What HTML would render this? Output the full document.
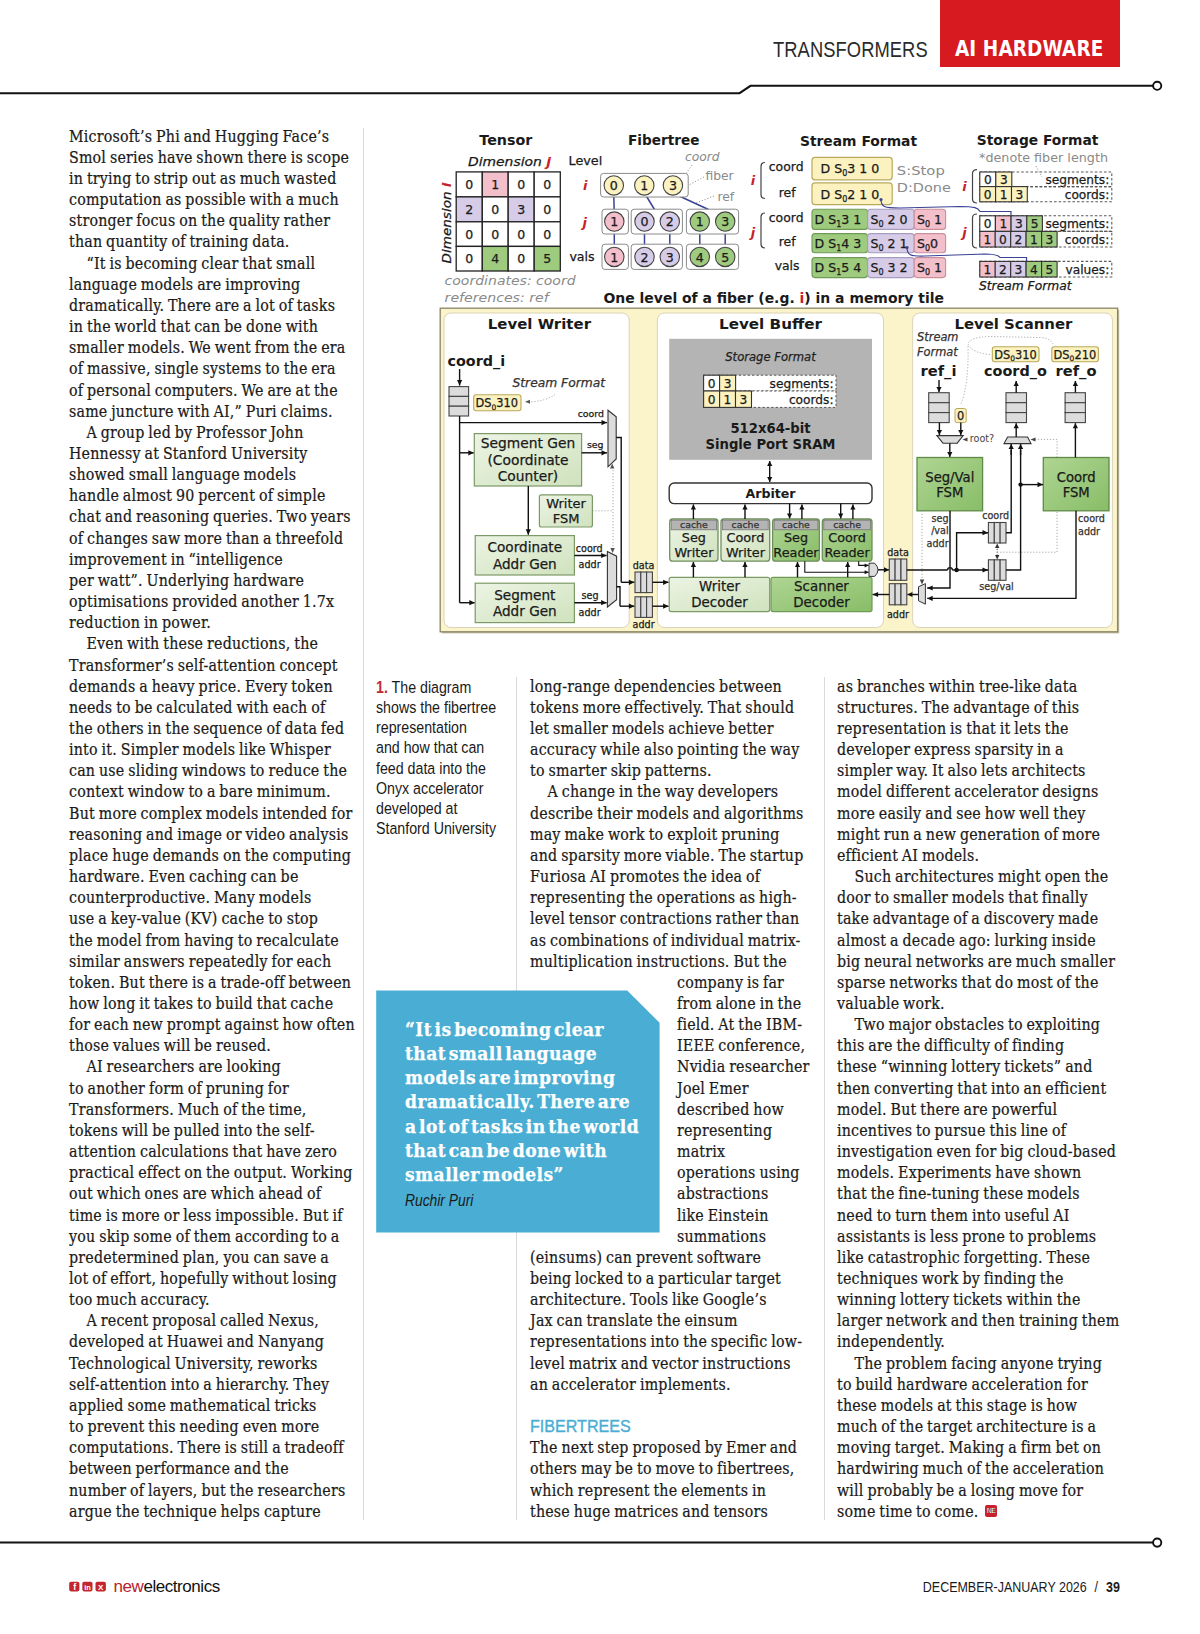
<!DOCTYPE html>
<html lang="en"><head><meta charset="utf-8"><title>New Electronics - AI Hardware: Transformers</title>
<style>
*{margin:0;padding:0;box-sizing:border-box}
html,body{width:1200px;height:1634px;background:#fff;overflow:hidden}
body{position:relative;font-family:"DejaVu Serif Condensed","DejaVu Serif","Liberation Serif",serif;color:#1a1a1a}
.ln{position:absolute;white-space:nowrap;font-family:"DejaVu Serif Condensed","DejaVu Serif","Liberation Serif",serif;font-stretch:condensed;font-size:15.8px;line-height:20px;height:20px;letter-spacing:0.2px;word-spacing:-0.9px;-webkit-text-stroke:0.2px #1a1a1a}
.ln.hd{font-family:"Liberation Sans",sans-serif;font-stretch:normal;word-spacing:0;color:#4aaed4;font-size:16.1px;letter-spacing:0;margin-top:-0.9px;font-weight:400;-webkit-text-stroke:0.35px #4aaed4}
.abs{position:absolute}
.vr{position:absolute;width:1px;background:#d9d9d9}
.cap{position:absolute;left:376px;top:677.9px;font-family:"Liberation Sans",sans-serif;font-size:16.8px;line-height:20.15px;white-space:nowrap;transform:scaleX(0.847);transform-origin:0 0;color:#1a1a1a}
.cap b{color:#bf2a35}
.quote{position:absolute;left:376.2px;top:990.4px;width:283.4px;height:242.2px;background:#4aaed4;clip-path:polygon(0 0,251px 0,283.4px 32.4px,283.4px 242.2px,0 242.2px)}
.qt{position:absolute;left:405px;top:1017px;font-family:"DejaVu Serif Condensed","DejaVu Serif","Liberation Serif",serif;font-stretch:condensed;font-weight:700;font-size:19px;line-height:24.15px;color:#fff;white-space:nowrap;letter-spacing:0.45px;word-spacing:-3.85px;-webkit-text-stroke:0.25px #fff}
.qa{position:absolute;left:405px;top:1189.6px;font-family:"Liberation Sans",sans-serif;font-style:italic;font-size:17.2px;line-height:20px;color:#1a1a1a;transform:scaleX(0.805);transform-origin:0 0;white-space:nowrap}
.ne{display:inline-block;vertical-align:baseline;margin-left:6.3px;width:12.7px;height:11.8px;border-radius:2px;background:#c8202c;color:#fff;font-family:"Liberation Sans",sans-serif;font-weight:700;font-size:7px;line-height:11.8px;text-align:center;letter-spacing:-0.4px;position:relative;top:-3.4px}
.redbox{position:absolute;left:940px;top:0;width:180px;height:66.5px;background:#d71920}
.hw{position:absolute;left:955px;top:37px;font-family:"DejaVu Sans Condensed","DejaVu Sans","Liberation Sans",sans-serif;font-stretch:condensed;font-weight:700;font-size:20.5px;line-height:24px;color:#fff;white-space:nowrap;letter-spacing:0.1px}
.tr{position:absolute;left:772.5px;top:36.5px;font-family:"Liberation Sans",sans-serif;font-size:22.3px;line-height:25px;color:#2a2a2a;white-space:nowrap;transform:scaleX(0.822);transform-origin:0 0;letter-spacing:0.1px}
.foot-date{position:absolute;right:80px;top:1577.5px;font-family:"Liberation Sans",sans-serif;font-size:15px;line-height:18px;color:#1a1a1a;white-space:nowrap;transform:scaleX(0.832);transform-origin:100% 0}
.foot-date i{font-style:normal;display:inline-block;width:9.5px}
.logo{position:absolute;left:113.6px;top:1575.2px;font-family:"Liberation Sans",sans-serif;font-size:17px;line-height:24px;letter-spacing:-0.45px;white-space:nowrap;color:#111}
.logo span{color:#b8222c}
</style></head><body>

<svg class="abs" style="left:0;top:0" width="1200" height="1634" viewBox="0 0 1200 1634">
 <polyline points="0,93.2 739.5,93.2 750.5,85.8 1153,85.8" fill="none" stroke="#111" stroke-width="2"/>
 <circle cx="1157.2" cy="85.8" r="4.1" fill="#fff" stroke="#111" stroke-width="1.9"/>
 <line x1="0" y1="1542.6" x2="1153" y2="1542.6" stroke="#111" stroke-width="2"/>
 <circle cx="1157.2" cy="1542.6" r="4.1" fill="#fff" stroke="#111" stroke-width="1.9"/>
 <g>
  <rect x="69.2" y="1581.8" width="10.2" height="9.6" rx="1.8" fill="#c3262d"/>
  <rect x="82.3" y="1581.8" width="10.2" height="9.6" rx="1.8" fill="#c3262d"/>
  <rect x="95.5" y="1581.8" width="10.4" height="9.6" rx="1.8" fill="#c3262d"/>
  <text x="74.8" y="1590.1" font-family="Liberation Sans, sans-serif" font-weight="700" font-size="9" fill="#fff" text-anchor="middle">f</text>
  <text x="87.4" y="1589.6" font-family="Liberation Sans, sans-serif" font-weight="700" font-size="7.5" fill="#fff" text-anchor="middle" letter-spacing="-0.3">in</text>
  <text x="100.7" y="1589.7" font-family="Liberation Sans, sans-serif" font-weight="700" font-size="8" fill="#fff" text-anchor="middle">X</text>
 </g>
</svg>

<div class="redbox"></div>
<div class="tr">TRANSFORMERS</div>
<div class="hw">AI HARDWARE</div>
<div class="vr" style="left:363px;top:128px;height:1392px"></div>
<div class="vr" style="left:516.4px;top:677px;height:843px"></div>
<div class="vr" style="left:824px;top:677px;height:843px"></div>
<div class="ln" style="left:69.0px;top:126.70px">Microsoft’s Phi and Hugging Face’s</div>
<div class="ln" style="left:69.0px;top:147.85px">Smol series have shown there is scope</div>
<div class="ln" style="left:69.0px;top:169.01px">in trying to strip out as much wasted</div>
<div class="ln" style="left:69.0px;top:190.16px">computation as possible with a much</div>
<div class="ln" style="left:69.0px;top:211.32px">stronger focus on the quality rather</div>
<div class="ln" style="left:69.0px;top:232.47px">than quantity of training data.</div>
<div class="ln" style="left:86.5px;top:253.62px">“It is becoming clear that small</div>
<div class="ln" style="left:69.0px;top:274.78px">language models are improving</div>
<div class="ln" style="left:69.0px;top:295.93px">dramatically. There are a lot of tasks</div>
<div class="ln" style="left:69.0px;top:317.09px">in the world that can be done with</div>
<div class="ln" style="left:69.0px;top:338.24px">smaller models. We went from the era</div>
<div class="ln" style="left:69.0px;top:359.39px">of massive, single systems to the era</div>
<div class="ln" style="left:69.0px;top:380.55px">of personal computers. We are at the</div>
<div class="ln" style="left:69.0px;top:401.70px">same juncture with AI,” Puri claims.</div>
<div class="ln" style="left:86.5px;top:422.86px">A group led by Professor John</div>
<div class="ln" style="left:69.0px;top:444.01px">Hennessy at Stanford University</div>
<div class="ln" style="left:69.0px;top:465.16px">showed small language models</div>
<div class="ln" style="left:69.0px;top:486.32px">handle almost 90 percent of simple</div>
<div class="ln" style="left:69.0px;top:507.47px">chat and reasoning queries. Two years</div>
<div class="ln" style="left:69.0px;top:528.63px">of changes saw more than a threefold</div>
<div class="ln" style="left:69.0px;top:549.78px">improvement in “intelligence</div>
<div class="ln" style="left:69.0px;top:570.93px">per watt”. Underlying hardware</div>
<div class="ln" style="left:69.0px;top:592.09px">optimisations provided another 1.7x</div>
<div class="ln" style="left:69.0px;top:613.24px">reduction in power.</div>
<div class="ln" style="left:86.5px;top:634.40px">Even with these reductions, the</div>
<div class="ln" style="left:69.0px;top:655.55px">Transformer’s self-attention concept</div>
<div class="ln" style="left:69.0px;top:676.70px">demands a heavy price. Every token</div>
<div class="ln" style="left:69.0px;top:697.86px">needs to be calculated with each of</div>
<div class="ln" style="left:69.0px;top:719.01px">the others in the sequence of data fed</div>
<div class="ln" style="left:69.0px;top:740.17px">into it. Simpler models like Whisper</div>
<div class="ln" style="left:69.0px;top:761.32px">can use sliding windows to reduce the</div>
<div class="ln" style="left:69.0px;top:782.47px">context window to a bare minimum.</div>
<div class="ln" style="left:69.0px;top:803.63px">But more complex models intended for</div>
<div class="ln" style="left:69.0px;top:824.78px">reasoning and image or video analysis</div>
<div class="ln" style="left:69.0px;top:845.94px">place huge demands on the computing</div>
<div class="ln" style="left:69.0px;top:867.09px">hardware. Even caching can be</div>
<div class="ln" style="left:69.0px;top:888.24px">counterproductive. Many models</div>
<div class="ln" style="left:69.0px;top:909.40px">use a key-value (KV) cache to stop</div>
<div class="ln" style="left:69.0px;top:930.55px">the model from having to recalculate</div>
<div class="ln" style="left:69.0px;top:951.71px">similar answers repeatedly for each</div>
<div class="ln" style="left:69.0px;top:972.86px">token. But there is a trade-off between</div>
<div class="ln" style="left:69.0px;top:994.01px">how long it takes to build that cache</div>
<div class="ln" style="left:69.0px;top:1015.17px">for each new prompt against how often</div>
<div class="ln" style="left:69.0px;top:1036.32px">those values will be reused.</div>
<div class="ln" style="left:86.5px;top:1057.48px">AI researchers are looking</div>
<div class="ln" style="left:69.0px;top:1078.63px">to another form of pruning for</div>
<div class="ln" style="left:69.0px;top:1099.78px">Transformers. Much of the time,</div>
<div class="ln" style="left:69.0px;top:1120.94px">tokens will be pulled into the self-</div>
<div class="ln" style="left:69.0px;top:1142.09px">attention calculations that have zero</div>
<div class="ln" style="left:69.0px;top:1163.25px">practical effect on the output. Working</div>
<div class="ln" style="left:69.0px;top:1184.40px">out which ones are which ahead of</div>
<div class="ln" style="left:69.0px;top:1205.55px">time is more or less impossible. But if</div>
<div class="ln" style="left:69.0px;top:1226.71px">you skip some of them according to a</div>
<div class="ln" style="left:69.0px;top:1247.86px">predetermined plan, you can save a</div>
<div class="ln" style="left:69.0px;top:1269.02px">lot of effort, hopefully without losing</div>
<div class="ln" style="left:69.0px;top:1290.17px">too much accuracy.</div>
<div class="ln" style="left:86.5px;top:1311.32px">A recent proposal called Nexus,</div>
<div class="ln" style="left:69.0px;top:1332.48px">developed at Huawei and Nanyang</div>
<div class="ln" style="left:69.0px;top:1353.63px">Technological University, reworks</div>
<div class="ln" style="left:69.0px;top:1374.79px">self-attention into a hierarchy. They</div>
<div class="ln" style="left:69.0px;top:1395.94px">applied some mathematical tricks</div>
<div class="ln" style="left:69.0px;top:1417.09px">to prevent this needing even more</div>
<div class="ln" style="left:69.0px;top:1438.25px">computations. There is still a tradeoff</div>
<div class="ln" style="left:69.0px;top:1459.40px">between performance and the</div>
<div class="ln" style="left:69.0px;top:1480.56px">number of layers, but the researchers</div>
<div class="ln" style="left:69.0px;top:1501.71px">argue the technique helps capture</div>
<div class="ln" style="left:530.0px;top:676.70px">long-range dependencies between</div>
<div class="ln" style="left:530.0px;top:697.86px">tokens more effectively. That should</div>
<div class="ln" style="left:530.0px;top:719.01px">let smaller models achieve better</div>
<div class="ln" style="left:530.0px;top:740.17px">accuracy while also pointing the way</div>
<div class="ln" style="left:530.0px;top:761.32px">to smarter skip patterns.</div>
<div class="ln" style="left:547.5px;top:782.47px">A change in the way developers</div>
<div class="ln" style="left:530.0px;top:803.63px">describe their models and algorithms</div>
<div class="ln" style="left:530.0px;top:824.78px">may make work to exploit pruning</div>
<div class="ln" style="left:530.0px;top:845.94px">and sparsity more viable. The startup</div>
<div class="ln" style="left:530.0px;top:867.09px">Furiosa AI promotes the idea of</div>
<div class="ln" style="left:530.0px;top:888.24px">representing the operations as high-</div>
<div class="ln" style="left:530.0px;top:909.40px">level tensor contractions rather than</div>
<div class="ln" style="left:530.0px;top:930.55px">as combinations of individual matrix-</div>
<div class="ln" style="left:530.0px;top:951.71px">multiplication instructions. But the</div>
<div class="ln" style="left:677.0px;top:972.86px">company is far</div>
<div class="ln" style="left:677.0px;top:994.01px">from alone in the</div>
<div class="ln" style="left:677.0px;top:1015.17px">field. At the IBM-</div>
<div class="ln" style="left:677.0px;top:1036.32px">IEEE conference,</div>
<div class="ln" style="left:677.0px;top:1057.48px">Nvidia researcher</div>
<div class="ln" style="left:677.0px;top:1078.63px">Joel Emer</div>
<div class="ln" style="left:677.0px;top:1099.78px">described how</div>
<div class="ln" style="left:677.0px;top:1120.94px">representing</div>
<div class="ln" style="left:677.0px;top:1142.09px">matrix</div>
<div class="ln" style="left:677.0px;top:1163.25px">operations using</div>
<div class="ln" style="left:677.0px;top:1184.40px">abstractions</div>
<div class="ln" style="left:677.0px;top:1205.55px">like Einstein</div>
<div class="ln" style="left:677.0px;top:1226.71px">summations</div>
<div class="ln" style="left:530.0px;top:1247.86px">(einsums) can prevent software</div>
<div class="ln" style="left:530.0px;top:1269.02px">being locked to a particular target</div>
<div class="ln" style="left:530.0px;top:1290.17px">architecture. Tools like Google’s</div>
<div class="ln" style="left:530.0px;top:1311.32px">Jax can translate the einsum</div>
<div class="ln" style="left:530.0px;top:1332.48px">representations into the specific low-</div>
<div class="ln" style="left:530.0px;top:1353.63px">level matrix and vector instructions</div>
<div class="ln" style="left:530.0px;top:1374.79px">an accelerator implements.</div>
<div class="ln hd" style="left:530.0px;top:1417.09px">FIBERTREES</div>
<div class="ln" style="left:530.0px;top:1438.25px">The next step proposed by Emer and</div>
<div class="ln" style="left:530.0px;top:1459.40px">others may be to move to fibertrees,</div>
<div class="ln" style="left:530.0px;top:1480.56px">which represent the elements in</div>
<div class="ln" style="left:530.0px;top:1501.71px">these huge matrices and tensors</div>
<div class="ln" style="left:837.0px;top:676.70px">as branches within tree-like data</div>
<div class="ln" style="left:837.0px;top:697.86px">structures. The advantage of this</div>
<div class="ln" style="left:837.0px;top:719.01px">representation is that it lets the</div>
<div class="ln" style="left:837.0px;top:740.17px">developer express sparsity in a</div>
<div class="ln" style="left:837.0px;top:761.32px">simpler way. It also lets architects</div>
<div class="ln" style="left:837.0px;top:782.47px">model different accelerator designs</div>
<div class="ln" style="left:837.0px;top:803.63px">more easily and see how well they</div>
<div class="ln" style="left:837.0px;top:824.78px">might run a new generation of more</div>
<div class="ln" style="left:837.0px;top:845.94px">efficient AI models.</div>
<div class="ln" style="left:854.5px;top:867.09px">Such architectures might open the</div>
<div class="ln" style="left:837.0px;top:888.24px">door to smaller models that finally</div>
<div class="ln" style="left:837.0px;top:909.40px">take advantage of a discovery made</div>
<div class="ln" style="left:837.0px;top:930.55px">almost a decade ago: lurking inside</div>
<div class="ln" style="left:837.0px;top:951.71px">big neural networks are much smaller</div>
<div class="ln" style="left:837.0px;top:972.86px">sparse networks that do most of the</div>
<div class="ln" style="left:837.0px;top:994.01px">valuable work.</div>
<div class="ln" style="left:854.5px;top:1015.17px">Two major obstacles to exploiting</div>
<div class="ln" style="left:837.0px;top:1036.32px">this are the difficulty of finding</div>
<div class="ln" style="left:837.0px;top:1057.48px">these “winning lottery tickets” and</div>
<div class="ln" style="left:837.0px;top:1078.63px">then converting that into an efficient</div>
<div class="ln" style="left:837.0px;top:1099.78px">model. But there are powerful</div>
<div class="ln" style="left:837.0px;top:1120.94px">incentives to pursue this line of</div>
<div class="ln" style="left:837.0px;top:1142.09px">investigation even for big cloud-based</div>
<div class="ln" style="left:837.0px;top:1163.25px">models. Experiments have shown</div>
<div class="ln" style="left:837.0px;top:1184.40px">that the fine-tuning these models</div>
<div class="ln" style="left:837.0px;top:1205.55px">need to turn them into useful AI</div>
<div class="ln" style="left:837.0px;top:1226.71px">assistants is less prone to problems</div>
<div class="ln" style="left:837.0px;top:1247.86px">like catastrophic forgetting. These</div>
<div class="ln" style="left:837.0px;top:1269.02px">techniques work by finding the</div>
<div class="ln" style="left:837.0px;top:1290.17px">winning lottery tickets within the</div>
<div class="ln" style="left:837.0px;top:1311.32px">larger network and then training them</div>
<div class="ln" style="left:837.0px;top:1332.48px">independently.</div>
<div class="ln" style="left:854.5px;top:1353.63px">The problem facing anyone trying</div>
<div class="ln" style="left:837.0px;top:1374.79px">to build hardware acceleration for</div>
<div class="ln" style="left:837.0px;top:1395.94px">these models at this stage is how</div>
<div class="ln" style="left:837.0px;top:1417.09px">much of the target architecture is a</div>
<div class="ln" style="left:837.0px;top:1438.25px">moving target. Making a firm bet on</div>
<div class="ln" style="left:837.0px;top:1459.40px">hardwiring much of the acceleration</div>
<div class="ln" style="left:837.0px;top:1480.56px">will probably be a losing move for</div>
<div class="ln" style="left:837.0px;top:1501.71px">some time to come.<span class="ne">NE</span></div>
<div class="cap"><b>1.</b> The diagram<br>shows the fibertree<br>representation<br>and how that can<br>feed data into the<br>Onyx accelerator<br>developed at<br>Stanford University</div>
<div class="quote"></div>
<div class="qt">“It is becoming clear<br>that small language<br>models are improving<br>dramatically. There are<br>a lot of tasks in the world<br>that can be done with<br>smaller models”</div>
<div class="qa">Ruchir Puri</div>
<svg class="abs" style="left:0;top:0" width="1200" height="660" viewBox="0 0 1200 660" font-family="DejaVu Sans, Liberation Sans, sans-serif">
<defs><linearGradient id="gl" x1="0" y1="0" x2="1" y2="1"><stop offset="0" stop-color="#ecf4e4"/><stop offset="1" stop-color="#cfe2bd"/></linearGradient><linearGradient id="gd" x1="0" y1="0" x2="1" y2="1"><stop offset="0" stop-color="#afd593"/><stop offset="1" stop-color="#88bd67"/></linearGradient><linearGradient id="gy" x1="0" y1="0" x2="0" y2="1"><stop offset="0" stop-color="#fdf8dc"/><stop offset="1" stop-color="#f9efbc"/></linearGradient></defs>
<text x="505.8" y="145.0" font-size="13.2" font-weight="700" font-style="normal" fill="#1a1a1a"  text-anchor="middle" textLength="53" lengthAdjust="spacingAndGlyphs">Tensor</text>
<text x="468.0" y="166.0" font-size="12.3" font-weight="400" font-style="italic" fill="#1a1a1a" stroke="#1a1a1a" stroke-width="0.25" text-anchor="start" textLength="83" lengthAdjust="spacingAndGlyphs">Dimension <tspan fill="#c8202c" stroke="none" font-weight="700">j</tspan></text>
<text transform="translate(450.5,263.5) rotate(-90)" textLength="81" lengthAdjust="spacingAndGlyphs" font-size="12.3" font-style="italic" fill="#1a1a1a" stroke="#1a1a1a" stroke-width="0.25">Dimension <tspan fill="#c8202c" stroke="none" font-weight="700">i</tspan></text>
<rect x="456.2" y="171.9" width="26.1" height="25.0" rx="0" fill="#fff" stroke="#222" stroke-width="1.3" />
<text x="469.2" y="189.0" font-size="12.5" font-weight="400" font-style="normal" fill="#1a1a1a" stroke="#1a1a1a" stroke-width="0.25" text-anchor="middle" >0</text>
<rect x="482.3" y="171.9" width="25.9" height="25.0" rx="0" fill="#f3bfcb" stroke="#222" stroke-width="1.3" />
<text x="495.2" y="189.0" font-size="12.5" font-weight="400" font-style="normal" fill="#1a1a1a" stroke="#1a1a1a" stroke-width="0.25" text-anchor="middle" >1</text>
<rect x="508.2" y="171.9" width="26.0" height="25.0" rx="0" fill="#fff" stroke="#222" stroke-width="1.3" />
<text x="521.2" y="189.0" font-size="12.5" font-weight="400" font-style="normal" fill="#1a1a1a" stroke="#1a1a1a" stroke-width="0.25" text-anchor="middle" >0</text>
<rect x="534.2" y="171.9" width="26.1" height="25.0" rx="0" fill="#fff" stroke="#222" stroke-width="1.3" />
<text x="547.2" y="189.0" font-size="12.5" font-weight="400" font-style="normal" fill="#1a1a1a" stroke="#1a1a1a" stroke-width="0.25" text-anchor="middle" >0</text>
<rect x="456.2" y="196.9" width="26.1" height="24.9" rx="0" fill="#d7cce7" stroke="#222" stroke-width="1.3" />
<text x="469.2" y="214.0" font-size="12.5" font-weight="400" font-style="normal" fill="#1a1a1a" stroke="#1a1a1a" stroke-width="0.25" text-anchor="middle" >2</text>
<rect x="482.3" y="196.9" width="25.9" height="24.9" rx="0" fill="#fff" stroke="#222" stroke-width="1.3" />
<text x="495.2" y="214.0" font-size="12.5" font-weight="400" font-style="normal" fill="#1a1a1a" stroke="#1a1a1a" stroke-width="0.25" text-anchor="middle" >0</text>
<rect x="508.2" y="196.9" width="26.0" height="24.9" rx="0" fill="#d7cce7" stroke="#222" stroke-width="1.3" />
<text x="521.2" y="214.0" font-size="12.5" font-weight="400" font-style="normal" fill="#1a1a1a" stroke="#1a1a1a" stroke-width="0.25" text-anchor="middle" >3</text>
<rect x="534.2" y="196.9" width="26.1" height="24.9" rx="0" fill="#fff" stroke="#222" stroke-width="1.3" />
<text x="547.2" y="214.0" font-size="12.5" font-weight="400" font-style="normal" fill="#1a1a1a" stroke="#1a1a1a" stroke-width="0.25" text-anchor="middle" >0</text>
<rect x="456.2" y="221.8" width="26.1" height="24.6" rx="0" fill="#fff" stroke="#222" stroke-width="1.3" />
<text x="469.2" y="238.7" font-size="12.5" font-weight="400" font-style="normal" fill="#1a1a1a" stroke="#1a1a1a" stroke-width="0.25" text-anchor="middle" >0</text>
<rect x="482.3" y="221.8" width="25.9" height="24.6" rx="0" fill="#fff" stroke="#222" stroke-width="1.3" />
<text x="495.2" y="238.7" font-size="12.5" font-weight="400" font-style="normal" fill="#1a1a1a" stroke="#1a1a1a" stroke-width="0.25" text-anchor="middle" >0</text>
<rect x="508.2" y="221.8" width="26.0" height="24.6" rx="0" fill="#fff" stroke="#222" stroke-width="1.3" />
<text x="521.2" y="238.7" font-size="12.5" font-weight="400" font-style="normal" fill="#1a1a1a" stroke="#1a1a1a" stroke-width="0.25" text-anchor="middle" >0</text>
<rect x="534.2" y="221.8" width="26.1" height="24.6" rx="0" fill="#fff" stroke="#222" stroke-width="1.3" />
<text x="547.2" y="238.7" font-size="12.5" font-weight="400" font-style="normal" fill="#1a1a1a" stroke="#1a1a1a" stroke-width="0.25" text-anchor="middle" >0</text>
<rect x="456.2" y="246.4" width="26.1" height="24.6" rx="0" fill="#fff" stroke="#222" stroke-width="1.3" />
<text x="469.2" y="263.3" font-size="12.5" font-weight="400" font-style="normal" fill="#1a1a1a" stroke="#1a1a1a" stroke-width="0.25" text-anchor="middle" >0</text>
<rect x="482.3" y="246.4" width="25.9" height="24.6" rx="0" fill="#9ecb7e" stroke="#222" stroke-width="1.3" />
<text x="495.2" y="263.3" font-size="12.5" font-weight="400" font-style="normal" fill="#1a1a1a" stroke="#1a1a1a" stroke-width="0.25" text-anchor="middle" >4</text>
<rect x="508.2" y="246.4" width="26.0" height="24.6" rx="0" fill="#fff" stroke="#222" stroke-width="1.3" />
<text x="521.2" y="263.3" font-size="12.5" font-weight="400" font-style="normal" fill="#1a1a1a" stroke="#1a1a1a" stroke-width="0.25" text-anchor="middle" >0</text>
<rect x="534.2" y="246.4" width="26.1" height="24.6" rx="0" fill="#9ecb7e" stroke="#222" stroke-width="1.3" />
<text x="547.2" y="263.3" font-size="12.5" font-weight="400" font-style="normal" fill="#1a1a1a" stroke="#1a1a1a" stroke-width="0.25" text-anchor="middle" >5</text>
<text x="444.6" y="285.3" font-size="12.2" font-weight="400" font-style="italic" fill="#8a8a8a"  text-anchor="start" textLength="131" lengthAdjust="spacingAndGlyphs">coordinates: coord</text>
<text x="444.6" y="301.5" font-size="12.2" font-weight="400" font-style="italic" fill="#8a8a8a"  text-anchor="start" textLength="104" lengthAdjust="spacingAndGlyphs">references: ref</text>
<text x="663.8" y="145.0" font-size="13.2" font-weight="700" font-style="normal" fill="#1a1a1a"  text-anchor="middle" textLength="71.5" lengthAdjust="spacingAndGlyphs">Fibertree</text>
<text x="568.5" y="165.3" font-size="12.8" font-weight="400" font-style="normal" fill="#1a1a1a" stroke="#1a1a1a" stroke-width="0.25" text-anchor="start" >Level</text>
<text x="685.0" y="161.2" font-size="12.3" font-weight="400" font-style="italic" fill="#8a8a8a"  text-anchor="start" >coord</text>
<text x="705.5" y="179.6" font-size="12.3" font-weight="400" font-style="normal" fill="#8a8a8a"  text-anchor="start" >fiber</text>
<text x="717.5" y="200.8" font-size="12.3" font-weight="400" font-style="normal" fill="#8a8a8a"  text-anchor="start" >ref</text>
<text x="583.0" y="190.2" font-size="13" font-weight="700" font-style="italic" fill="#c8202c"  text-anchor="start" >i</text>
<text x="582.5" y="226.5" font-size="13" font-weight="700" font-style="italic" fill="#c8202c"  text-anchor="start" >j</text>
<text x="569.4" y="260.8" font-size="12.6" font-weight="400" font-style="normal" fill="#1a1a1a" stroke="#1a1a1a" stroke-width="0.25" text-anchor="start" >vals</text>
<polyline points="692.0,165.0 683.0,178.0" fill="none" stroke="#9a9a9a" stroke-width="1" stroke-dasharray="1.2 1.8"/>
<polyline points="704.0,177.0 689.0,185.0" fill="none" stroke="#9a9a9a" stroke-width="1" stroke-dasharray="1.2 1.8"/>
<polyline points="714.0,196.0 696.0,203.0" fill="none" stroke="#9a9a9a" stroke-width="1" stroke-dasharray="1.2 1.8"/>
<polyline points="613.8,196.0 614.2,211.0" fill="none" stroke="#3b4295" stroke-width="1.5" />
<polyline points="646.0,195.5 654.5,209.5" fill="none" stroke="#3b4295" stroke-width="1.5" />
<polyline points="677.0,195.0 708.5,209.5" fill="none" stroke="#3b4295" stroke-width="1.5" />
<polyline points="614.3,231.0 614.3,247.0" fill="none" stroke="#3b4295" stroke-width="1.5" />
<polyline points="644.5,231.0 644.5,247.0" fill="none" stroke="#3b4295" stroke-width="1.5" />
<polyline points="669.8,231.0 669.8,247.0" fill="none" stroke="#3b4295" stroke-width="1.5" />
<polyline points="699.8,231.0 699.8,247.0" fill="none" stroke="#3b4295" stroke-width="1.5" />
<polyline points="725.2,231.0 725.2,247.0" fill="none" stroke="#3b4295" stroke-width="1.5" />
<rect x="600.6" y="173.4" width="87.6" height="23.6" rx="3" fill="#fff" stroke="#8a8a8a" stroke-width="1" />
<rect x="602.0" y="209.2" width="26.4" height="24.8" rx="3" fill="#fff" stroke="#8a8a8a" stroke-width="1" />
<rect x="602.0" y="244.2" width="26.4" height="25.2" rx="3" fill="#fff" stroke="#8a8a8a" stroke-width="1" />
<rect x="631.2" y="209.2" width="51.2" height="24.8" rx="3" fill="#fff" stroke="#8a8a8a" stroke-width="1" />
<rect x="631.2" y="244.2" width="51.2" height="25.2" rx="3" fill="#fff" stroke="#8a8a8a" stroke-width="1" />
<rect x="686.4" y="209.2" width="52.2" height="24.8" rx="3" fill="#fff" stroke="#8a8a8a" stroke-width="1" />
<rect x="686.4" y="244.2" width="52.2" height="25.2" rx="3" fill="#fff" stroke="#8a8a8a" stroke-width="1" />
<circle cx="613.8" cy="185.4" r="9.7" fill="#fbf2bf" stroke="#444" stroke-width="1.1"/>
<text x="613.8" y="190.0" font-size="12.6" font-weight="400" font-style="normal" fill="#1a1a1a" stroke="#1a1a1a" stroke-width="0.25" text-anchor="middle" >0</text>
<circle cx="644.3" cy="185.4" r="9.7" fill="#fbf2bf" stroke="#444" stroke-width="1.1"/>
<text x="644.3" y="190.0" font-size="12.6" font-weight="400" font-style="normal" fill="#1a1a1a" stroke="#1a1a1a" stroke-width="0.25" text-anchor="middle" >1</text>
<circle cx="672.9" cy="185.4" r="9.7" fill="#fbf2bf" stroke="#444" stroke-width="1.1"/>
<text x="672.9" y="190.0" font-size="12.6" font-weight="400" font-style="normal" fill="#1a1a1a" stroke="#1a1a1a" stroke-width="0.25" text-anchor="middle" >3</text>
<circle cx="614.3" cy="221.6" r="9.7" fill="#f3bfcb" stroke="#444" stroke-width="1.1"/>
<text x="614.3" y="226.2" font-size="12.6" font-weight="400" font-style="normal" fill="#1a1a1a" stroke="#1a1a1a" stroke-width="0.25" text-anchor="middle" >1</text>
<circle cx="644.5" cy="221.6" r="9.7" fill="#d7cce7" stroke="#444" stroke-width="1.1"/>
<text x="644.5" y="226.2" font-size="12.6" font-weight="400" font-style="normal" fill="#1a1a1a" stroke="#1a1a1a" stroke-width="0.25" text-anchor="middle" >0</text>
<circle cx="669.8" cy="221.6" r="9.7" fill="#d7cce7" stroke="#444" stroke-width="1.1"/>
<text x="669.8" y="226.2" font-size="12.6" font-weight="400" font-style="normal" fill="#1a1a1a" stroke="#1a1a1a" stroke-width="0.25" text-anchor="middle" >2</text>
<circle cx="699.8" cy="221.6" r="9.7" fill="#9ecb7e" stroke="#444" stroke-width="1.1"/>
<text x="699.8" y="226.2" font-size="12.6" font-weight="400" font-style="normal" fill="#1a1a1a" stroke="#1a1a1a" stroke-width="0.25" text-anchor="middle" >1</text>
<circle cx="725.2" cy="221.6" r="9.7" fill="#9ecb7e" stroke="#444" stroke-width="1.1"/>
<text x="725.2" y="226.2" font-size="12.6" font-weight="400" font-style="normal" fill="#1a1a1a" stroke="#1a1a1a" stroke-width="0.25" text-anchor="middle" >3</text>
<circle cx="614.3" cy="256.9" r="9.7" fill="#f3bfcb" stroke="#444" stroke-width="1.1"/>
<text x="614.3" y="261.5" font-size="12.6" font-weight="400" font-style="normal" fill="#1a1a1a" stroke="#1a1a1a" stroke-width="0.25" text-anchor="middle" >1</text>
<circle cx="644.5" cy="256.9" r="9.7" fill="#d7cce7" stroke="#444" stroke-width="1.1"/>
<text x="644.5" y="261.5" font-size="12.6" font-weight="400" font-style="normal" fill="#1a1a1a" stroke="#1a1a1a" stroke-width="0.25" text-anchor="middle" >2</text>
<circle cx="669.8" cy="256.9" r="9.7" fill="#d7cce7" stroke="#444" stroke-width="1.1"/>
<text x="669.8" y="261.5" font-size="12.6" font-weight="400" font-style="normal" fill="#1a1a1a" stroke="#1a1a1a" stroke-width="0.25" text-anchor="middle" >3</text>
<circle cx="699.8" cy="256.9" r="9.7" fill="#9ecb7e" stroke="#444" stroke-width="1.1"/>
<text x="699.8" y="261.5" font-size="12.6" font-weight="400" font-style="normal" fill="#1a1a1a" stroke="#1a1a1a" stroke-width="0.25" text-anchor="middle" >4</text>
<circle cx="725.2" cy="256.9" r="9.7" fill="#9ecb7e" stroke="#444" stroke-width="1.1"/>
<text x="725.2" y="261.5" font-size="12.6" font-weight="400" font-style="normal" fill="#1a1a1a" stroke="#1a1a1a" stroke-width="0.25" text-anchor="middle" >5</text>
<text x="603.5" y="302.6" font-size="13.2" font-weight="700" font-style="normal" fill="#1a1a1a"  text-anchor="start" textLength="340.5" lengthAdjust="spacingAndGlyphs">One level of a fiber (e.g. <tspan fill="#c8202c" stroke="none">i</tspan>) in a memory tile</text>
<text x="858.5" y="145.5" font-size="13.2" font-weight="700" font-style="normal" fill="#1a1a1a"  text-anchor="middle" textLength="117.2" lengthAdjust="spacingAndGlyphs">Stream Format</text>
<text x="753.0" y="185.0" font-size="13" font-weight="700" font-style="italic" fill="#c8202c"  text-anchor="middle" >i</text>
<text x="753.0" y="236.5" font-size="13" font-weight="700" font-style="italic" fill="#c8202c"  text-anchor="middle" >j</text>
<path d="M765,162.5 q-4,0 -4,4 v28 q0,4 4,4" fill="none" stroke="#444" stroke-width="1.2"/>
<path d="M765,213 q-4,0 -4,4 v27 q0,4 4,4" fill="none" stroke="#444" stroke-width="1.2"/>
<text x="803.5" y="171.0" font-size="12.4" font-weight="400" font-style="normal" fill="#1a1a1a" stroke="#1a1a1a" stroke-width="0.25" text-anchor="end" >coord</text>
<text x="795.5" y="197.2" font-size="12.4" font-weight="400" font-style="normal" fill="#1a1a1a" stroke="#1a1a1a" stroke-width="0.25" text-anchor="end" >ref</text>
<text x="803.5" y="222.0" font-size="12.4" font-weight="400" font-style="normal" fill="#1a1a1a" stroke="#1a1a1a" stroke-width="0.25" text-anchor="end" >coord</text>
<text x="795.5" y="245.5" font-size="12.4" font-weight="400" font-style="normal" fill="#1a1a1a" stroke="#1a1a1a" stroke-width="0.25" text-anchor="end" >ref</text>
<text x="799.5" y="270.0" font-size="12.4" font-weight="400" font-style="normal" fill="#1a1a1a" stroke="#1a1a1a" stroke-width="0.25" text-anchor="end" >vals</text>
<rect x="812.0" y="157.4" width="80.2" height="22.4" rx="3" fill="#fbf2bf" stroke="#b9a95c" stroke-width="1.2" />
<rect x="812.0" y="182.8" width="80.2" height="21.8" rx="3" fill="#fbf2bf" stroke="#b9a95c" stroke-width="1.2" />
<text x="820.5" y="173.4" font-size="12.6" font-weight="400" font-style="normal" fill="#1a1a1a" stroke="#1a1a1a" stroke-width="0.25" text-anchor="start" >D S<tspan font-size="8" dy="3">0</tspan><tspan dy="-3">3 1 0</tspan></text>
<text x="820.5" y="198.6" font-size="12.6" font-weight="400" font-style="normal" fill="#1a1a1a" stroke="#1a1a1a" stroke-width="0.25" text-anchor="start" >D S<tspan font-size="8" dy="3">0</tspan><tspan dy="-3">2 1 0</tspan></text>
<text x="896.8" y="174.6" font-size="12.8" font-weight="400" font-style="normal" fill="#8a8a8a"  text-anchor="start" textLength="48" lengthAdjust="spacingAndGlyphs">S:Stop</text>
<text x="896.8" y="191.6" font-size="12.8" font-weight="400" font-style="normal" fill="#8a8a8a"  text-anchor="start" textLength="54" lengthAdjust="spacingAndGlyphs">D:Done</text>
<rect x="812.0" y="209.2" width="55.6" height="20.2" rx="3" fill="#9ecb7e" stroke="#6f9a55" stroke-width="1.1" />
<rect x="867.6" y="209.2" width="46.6" height="20.2" rx="3" fill="#d7cce7" stroke="#a79cc0" stroke-width="1.1" />
<rect x="914.2" y="209.2" width="31.4" height="20.2" rx="3" fill="#f3bfcb" stroke="#c9909c" stroke-width="1.1" />
<text x="814.5" y="223.8" font-size="12.6" font-weight="400" font-style="normal" fill="#1a1a1a" stroke="#1a1a1a" stroke-width="0.25" text-anchor="start" >D S<tspan font-size="8" dy="3">1</tspan><tspan dy="-3">3 1</tspan></text>
<text x="870.5" y="223.8" font-size="12.6" font-weight="400" font-style="normal" fill="#1a1a1a" stroke="#1a1a1a" stroke-width="0.25" text-anchor="start" >S<tspan font-size="8" dy="3">0</tspan><tspan dy="-3"> 2 0</tspan></text>
<text x="917.0" y="223.8" font-size="12.6" font-weight="400" font-style="normal" fill="#1a1a1a" stroke="#1a1a1a" stroke-width="0.25" text-anchor="start" >S<tspan font-size="8" dy="3">0</tspan><tspan dy="-3"> 1</tspan></text>
<rect x="812.0" y="233.6" width="55.6" height="19.2" rx="3" fill="#9ecb7e" stroke="#6f9a55" stroke-width="1.1" />
<rect x="867.6" y="233.6" width="46.6" height="19.2" rx="3" fill="#d7cce7" stroke="#a79cc0" stroke-width="1.1" />
<rect x="914.2" y="233.6" width="31.4" height="19.2" rx="3" fill="#f3bfcb" stroke="#c9909c" stroke-width="1.1" />
<text x="814.5" y="247.7" font-size="12.6" font-weight="400" font-style="normal" fill="#1a1a1a" stroke="#1a1a1a" stroke-width="0.25" text-anchor="start" >D S<tspan font-size="8" dy="3">1</tspan><tspan dy="-3">4 3</tspan></text>
<text x="870.5" y="247.7" font-size="12.6" font-weight="400" font-style="normal" fill="#1a1a1a" stroke="#1a1a1a" stroke-width="0.25" text-anchor="start" >S<tspan font-size="8" dy="3">0</tspan><tspan dy="-3"> 2 1</tspan></text>
<text x="917.0" y="247.7" font-size="12.6" font-weight="400" font-style="normal" fill="#1a1a1a" stroke="#1a1a1a" stroke-width="0.25" text-anchor="start" >S<tspan font-size="8" dy="3">0</tspan><tspan dy="-3">0</tspan></text>
<rect x="812.0" y="257.6" width="55.6" height="20.0" rx="3" fill="#9ecb7e" stroke="#6f9a55" stroke-width="1.1" />
<rect x="867.6" y="257.6" width="46.6" height="20.0" rx="3" fill="#d7cce7" stroke="#a79cc0" stroke-width="1.1" />
<rect x="914.2" y="257.6" width="31.4" height="20.0" rx="3" fill="#f3bfcb" stroke="#c9909c" stroke-width="1.1" />
<text x="814.5" y="272.1" font-size="12.6" font-weight="400" font-style="normal" fill="#1a1a1a" stroke="#1a1a1a" stroke-width="0.25" text-anchor="start" >D S<tspan font-size="8" dy="3">1</tspan><tspan dy="-3">5 4</tspan></text>
<text x="870.5" y="272.1" font-size="12.6" font-weight="400" font-style="normal" fill="#1a1a1a" stroke="#1a1a1a" stroke-width="0.25" text-anchor="start" >S<tspan font-size="8" dy="3">0</tspan><tspan dy="-3"> 3 2</tspan></text>
<text x="917.0" y="272.1" font-size="12.6" font-weight="400" font-style="normal" fill="#1a1a1a" stroke="#1a1a1a" stroke-width="0.25" text-anchor="start" >S<tspan font-size="8" dy="3">0</tspan><tspan dy="-3"> 1</tspan></text>
<text x="1037.6" y="145.0" font-size="13.2" font-weight="700" font-style="normal" fill="#1a1a1a"  text-anchor="middle" textLength="121.6" lengthAdjust="spacingAndGlyphs">Storage Format</text>
<text x="979.0" y="162.4" font-size="11.6" font-weight="400" font-style="normal" fill="#8a8a8a"  text-anchor="start" textLength="129" lengthAdjust="spacingAndGlyphs">*denote fiber length</text>
<text x="964.5" y="191.0" font-size="13" font-weight="700" font-style="italic" fill="#c8202c"  text-anchor="middle" >i</text>
<text x="964.5" y="237.0" font-size="13" font-weight="700" font-style="italic" fill="#c8202c"  text-anchor="middle" >j</text>
<path d="M977,169.6 q-4.5,0 -4.5,4 v25.4 q0,4 4.5,4" fill="none" stroke="#444" stroke-width="1.2"/>
<path d="M977,214 q-4.5,0 -4.5,4 v26 q0,4 4.5,4" fill="none" stroke="#444" stroke-width="1.2"/>
<rect x="979.8" y="172.0" width="132.0" height="14.6" rx="0" fill="none" stroke="#5a5a5a" stroke-width="1.1" stroke-dasharray="2.6 2"/>
<text x="1109.3" y="183.6" font-size="12.2" font-weight="400" font-style="normal" fill="#1a1a1a" stroke="#1a1a1a" stroke-width="0.25" text-anchor="end" >segments:</text>
<rect x="979.8" y="186.6" width="132.0" height="15.2" rx="0" fill="none" stroke="#5a5a5a" stroke-width="1.1" stroke-dasharray="2.6 2"/>
<text x="1109.3" y="198.5" font-size="12.2" font-weight="400" font-style="normal" fill="#1a1a1a" stroke="#1a1a1a" stroke-width="0.25" text-anchor="end" >coords:</text>
<rect x="979.8" y="172.0" width="16.0" height="14.6" rx="0" fill="#fff" stroke="#333" stroke-width="1.1" />
<text x="987.8" y="183.7" font-size="12.2" font-weight="400" font-style="normal" fill="#1a1a1a" stroke="#1a1a1a" stroke-width="0.25" text-anchor="middle" >0</text>
<rect x="995.8" y="172.0" width="16.0" height="14.6" rx="0" fill="#fbf2bf" stroke="#333" stroke-width="1.1" />
<text x="1003.8" y="183.7" font-size="12.2" font-weight="400" font-style="normal" fill="#1a1a1a" stroke="#1a1a1a" stroke-width="0.25" text-anchor="middle" >3</text>
<rect x="979.8" y="186.6" width="15.9" height="15.2" rx="0" fill="#fbf2bf" stroke="#333" stroke-width="1.1" />
<text x="987.7" y="198.6" font-size="12.2" font-weight="400" font-style="normal" fill="#1a1a1a" stroke="#1a1a1a" stroke-width="0.25" text-anchor="middle" >0</text>
<rect x="995.6" y="186.6" width="15.9" height="15.2" rx="0" fill="#fbf2bf" stroke="#333" stroke-width="1.1" />
<text x="1003.6" y="198.6" font-size="12.2" font-weight="400" font-style="normal" fill="#1a1a1a" stroke="#1a1a1a" stroke-width="0.25" text-anchor="middle" >1</text>
<rect x="1011.5" y="186.6" width="15.8" height="15.2" rx="0" fill="#fbf2bf" stroke="#333" stroke-width="1.1" />
<text x="1019.4" y="198.6" font-size="12.2" font-weight="400" font-style="normal" fill="#1a1a1a" stroke="#1a1a1a" stroke-width="0.25" text-anchor="middle" >3</text>
<polyline points="1036.0,166.0 1042.0,177.0" fill="none" stroke="#9a9a9a" stroke-width="1" stroke-dasharray="1.2 1.8"/>
<rect x="979.8" y="215.8" width="132.0" height="15.6" rx="0" fill="none" stroke="#5a5a5a" stroke-width="1.1" stroke-dasharray="2.6 2"/>
<text x="1109.3" y="227.9" font-size="12.2" font-weight="400" font-style="normal" fill="#1a1a1a" stroke="#1a1a1a" stroke-width="0.25" text-anchor="end" >segments:</text>
<rect x="979.8" y="231.4" width="132.0" height="15.6" rx="0" fill="none" stroke="#5a5a5a" stroke-width="1.1" stroke-dasharray="2.6 2"/>
<text x="1109.3" y="243.5" font-size="12.2" font-weight="400" font-style="normal" fill="#1a1a1a" stroke="#1a1a1a" stroke-width="0.25" text-anchor="end" >coords:</text>
<rect x="979.8" y="215.8" width="15.6" height="15.6" rx="0" fill="#fff" stroke="#333" stroke-width="1.1" />
<text x="987.6" y="228.0" font-size="12.2" font-weight="400" font-style="normal" fill="#1a1a1a" stroke="#1a1a1a" stroke-width="0.25" text-anchor="middle" >0</text>
<rect x="995.4" y="215.8" width="15.6" height="15.6" rx="0" fill="#f3bfcb" stroke="#333" stroke-width="1.1" />
<text x="1003.3" y="228.0" font-size="12.2" font-weight="400" font-style="normal" fill="#1a1a1a" stroke="#1a1a1a" stroke-width="0.25" text-anchor="middle" >1</text>
<rect x="1011.1" y="215.8" width="15.7" height="15.6" rx="0" fill="#d7cce7" stroke="#333" stroke-width="1.1" />
<text x="1018.9" y="228.0" font-size="12.2" font-weight="400" font-style="normal" fill="#1a1a1a" stroke="#1a1a1a" stroke-width="0.25" text-anchor="middle" >3</text>
<rect x="1026.8" y="215.8" width="15.6" height="15.6" rx="0" fill="#9ecb7e" stroke="#333" stroke-width="1.1" />
<text x="1034.6" y="228.0" font-size="12.2" font-weight="400" font-style="normal" fill="#1a1a1a" stroke="#1a1a1a" stroke-width="0.25" text-anchor="middle" >5</text>
<rect x="979.8" y="231.4" width="15.5" height="15.6" rx="0" fill="#f3bfcb" stroke="#333" stroke-width="1.1" />
<text x="987.5" y="243.6" font-size="12.2" font-weight="400" font-style="normal" fill="#1a1a1a" stroke="#1a1a1a" stroke-width="0.25" text-anchor="middle" >1</text>
<rect x="995.2" y="231.4" width="15.4" height="15.6" rx="0" fill="#d7cce7" stroke="#333" stroke-width="1.1" />
<text x="1003.0" y="243.6" font-size="12.2" font-weight="400" font-style="normal" fill="#1a1a1a" stroke="#1a1a1a" stroke-width="0.25" text-anchor="middle" >0</text>
<rect x="1010.7" y="231.4" width="15.4" height="15.6" rx="0" fill="#d7cce7" stroke="#333" stroke-width="1.1" />
<text x="1018.4" y="243.6" font-size="12.2" font-weight="400" font-style="normal" fill="#1a1a1a" stroke="#1a1a1a" stroke-width="0.25" text-anchor="middle" >2</text>
<rect x="1026.1" y="231.4" width="15.5" height="15.6" rx="0" fill="#9ecb7e" stroke="#333" stroke-width="1.1" />
<text x="1033.9" y="243.6" font-size="12.2" font-weight="400" font-style="normal" fill="#1a1a1a" stroke="#1a1a1a" stroke-width="0.25" text-anchor="middle" >1</text>
<rect x="1041.6" y="231.4" width="15.5" height="15.6" rx="0" fill="#9ecb7e" stroke="#333" stroke-width="1.1" />
<text x="1049.3" y="243.6" font-size="12.2" font-weight="400" font-style="normal" fill="#1a1a1a" stroke="#1a1a1a" stroke-width="0.25" text-anchor="middle" >3</text>
<rect x="979.8" y="261.4" width="132.0" height="15.6" rx="0" fill="none" stroke="#5a5a5a" stroke-width="1.1" stroke-dasharray="2.6 2"/>
<text x="1109.3" y="273.5" font-size="12.2" font-weight="400" font-style="normal" fill="#1a1a1a" stroke="#1a1a1a" stroke-width="0.25" text-anchor="end" >values:</text>
<rect x="979.8" y="261.4" width="15.5" height="15.6" rx="0" fill="#f3bfcb" stroke="#333" stroke-width="1.1" />
<text x="987.5" y="273.6" font-size="12.2" font-weight="400" font-style="normal" fill="#1a1a1a" stroke="#1a1a1a" stroke-width="0.25" text-anchor="middle" >1</text>
<rect x="995.2" y="261.4" width="15.4" height="15.6" rx="0" fill="#d7cce7" stroke="#333" stroke-width="1.1" />
<text x="1003.0" y="273.6" font-size="12.2" font-weight="400" font-style="normal" fill="#1a1a1a" stroke="#1a1a1a" stroke-width="0.25" text-anchor="middle" >2</text>
<rect x="1010.7" y="261.4" width="15.4" height="15.6" rx="0" fill="#d7cce7" stroke="#333" stroke-width="1.1" />
<text x="1018.4" y="273.6" font-size="12.2" font-weight="400" font-style="normal" fill="#1a1a1a" stroke="#1a1a1a" stroke-width="0.25" text-anchor="middle" >3</text>
<rect x="1026.1" y="261.4" width="15.5" height="15.6" rx="0" fill="#9ecb7e" stroke="#333" stroke-width="1.1" />
<text x="1033.9" y="273.6" font-size="12.2" font-weight="400" font-style="normal" fill="#1a1a1a" stroke="#1a1a1a" stroke-width="0.25" text-anchor="middle" >4</text>
<rect x="1041.6" y="261.4" width="15.5" height="15.6" rx="0" fill="#9ecb7e" stroke="#333" stroke-width="1.1" />
<text x="1049.3" y="273.6" font-size="12.2" font-weight="400" font-style="normal" fill="#1a1a1a" stroke="#1a1a1a" stroke-width="0.25" text-anchor="middle" >5</text>
<text x="979.0" y="289.8" font-size="11.4" font-weight="400" font-style="italic" fill="#1a1a1a" stroke="#1a1a1a" stroke-width="0.25" text-anchor="start" textLength="92.5" lengthAdjust="spacingAndGlyphs">Stream Format</text>
<path d="M881,199 C881,207 884,208 900,208 L960,206.5 C975,206.5 978,208 980,211.5 L1011,211.5 L1011,215.5" fill="none" stroke="#3b4295" stroke-width="1.2"/>
<path d="M907,247 C907,255 910,256.5 925,256 L985,254 C995,254 998,255 1000,257.5 L1026.5,257.5 L1026.5,261" fill="none" stroke="#3b4295" stroke-width="1.2"/>
<circle cx="881" cy="199.5" r="1.6" fill="#3b4295"/><circle cx="907" cy="247.5" r="1.6" fill="#3b4295"/>
<rect x="442" y="310" width="1177" height="0" fill="none"/>
<rect x="441.8" y="309.8" width="677.4" height="323.6" rx="0" fill="#bdb9a4" stroke="none" stroke-width="0" />
<rect x="440.2" y="308.2" width="677.4" height="323.6" rx="0" fill="#fbf3c9" stroke="#8a8564" stroke-width="1.3" />
<rect x="444.0" y="313.0" width="185.2" height="314.5" rx="7" fill="#fff" stroke="#d9d4b8" stroke-width="1" />
<rect x="657.4" y="313.0" width="226.1" height="314.5" rx="7" fill="#fff" stroke="#d9d4b8" stroke-width="1" />
<rect x="912.7" y="313.0" width="199.7" height="314.5" rx="7" fill="#fff" stroke="#d9d4b8" stroke-width="1" />
<text x="539.4" y="329.0" font-size="14" font-weight="700" font-style="normal" fill="#1a1a1a"  text-anchor="middle" textLength="103.2" lengthAdjust="spacingAndGlyphs">Level Writer</text>
<text x="770.5" y="329.0" font-size="14" font-weight="700" font-style="normal" fill="#1a1a1a"  text-anchor="middle" textLength="103" lengthAdjust="spacingAndGlyphs">Level Buffer</text>
<text x="1013.4" y="329.0" font-size="14" font-weight="700" font-style="normal" fill="#1a1a1a"  text-anchor="middle" textLength="118" lengthAdjust="spacingAndGlyphs">Level Scanner</text>
<text x="447.5" y="366.4" font-size="13.8" font-weight="700" font-style="normal" fill="#1a1a1a"  text-anchor="start" textLength="57.7" lengthAdjust="spacingAndGlyphs">coord_i</text>
<polyline points="459.6,369.0 459.6,385.6" fill="none" stroke="#111" stroke-width="1.4" />
<polygon points="459.6,385.6 457.0,380.1 462.2,380.1" fill="#111"/>
<rect x="449.0" y="386.6" width="19.6" height="9.8" rx="0" fill="#dcdcdc" stroke="#444" stroke-width="1.1" />
<rect x="449.0" y="396.4" width="19.6" height="9.8" rx="0" fill="#dcdcdc" stroke="#444" stroke-width="1.1" />
<rect x="449.0" y="406.2" width="19.6" height="9.8" rx="0" fill="#dcdcdc" stroke="#444" stroke-width="1.1" />
<text x="512.5" y="386.6" font-size="11.6" font-weight="400" font-style="italic" fill="#333" stroke="#333" stroke-width="0.25" text-anchor="start" textLength="92.5" lengthAdjust="spacingAndGlyphs">Stream Format</text>
<rect x="473.7" y="394.8" width="47.3" height="16.0" rx="2.5" fill="#fbf2bf" stroke="#b9a95c" stroke-width="1.1" />
<text x="475.5" y="407.0" font-size="11.4" font-weight="400" font-style="normal" fill="#1a1a1a" stroke="#1a1a1a" stroke-width="0.25" text-anchor="start" >DS<tspan font-size="7.5" dy="2.6">0</tspan><tspan dy="-2.6">310</tspan></text>
<path d="M555,394.5 Q546,401 531,401.8" fill="none" stroke="#aaa" stroke-width="1" stroke-dasharray="1.2 1.8"/>
<polygon points="525,401.8 530,399.8 530,403.8" fill="#555"/>
<polyline points="459.6,416.0 459.6,602.7" fill="none" stroke="#111" stroke-width="1.4" />
<polyline points="459.6,422.6 607.0,422.6" fill="none" stroke="#111" stroke-width="1.4" />
<polygon points="607.0,422.6 601.5,425.2 601.5,420.0" fill="#111"/>
<text x="604.0" y="417.0" font-size="9.4" font-weight="400" font-style="normal" fill="#1a1a1a" stroke="#1a1a1a" stroke-width="0.25" text-anchor="end" >coord</text>
<polyline points="459.6,452.8 473.8,452.8" fill="none" stroke="#111" stroke-width="1.4" />
<polygon points="473.8,452.8 468.3,455.4 468.3,450.2" fill="#111"/>
<polyline points="459.6,602.7 474.8,602.7" fill="none" stroke="#111" stroke-width="1.4" />
<polygon points="474.8,602.7 469.3,605.3 469.3,600.1" fill="#111"/>
<polygon points="608,410.2 616.2,416.8 616.2,459 608,466.8" fill="#dcdcdc" stroke="#333" stroke-width="1.1"/>
<rect x="474.3" y="433.6" width="107.3" height="52.4" rx="0" fill="url(#gl)" stroke="#7c9a66" stroke-width="1.2" />
<text x="528.0" y="448.0" font-size="13.8" font-weight="400" font-style="normal" fill="#1a1a1a" stroke="#1a1a1a" stroke-width="0.25" text-anchor="middle" >Segment Gen</text>
<text x="528.0" y="464.6" font-size="13.8" font-weight="400" font-style="normal" fill="#1a1a1a" stroke="#1a1a1a" stroke-width="0.25" text-anchor="middle" >(Coordinate</text>
<text x="528.0" y="481.2" font-size="13.8" font-weight="400" font-style="normal" fill="#1a1a1a" stroke="#1a1a1a" stroke-width="0.25" text-anchor="middle" >Counter)</text>
<text x="603.5" y="447.5" font-size="9.4" font-weight="400" font-style="normal" fill="#1a1a1a" stroke="#1a1a1a" stroke-width="0.25" text-anchor="end" >seg</text>
<polyline points="581.6,452.8 607.0,452.8" fill="none" stroke="#111" stroke-width="1.4" />
<polygon points="607.0,452.8 601.5,455.4 601.5,450.2" fill="#111"/>
<polyline points="616.2,437.5 621.2,437.5 621.2,582.3" fill="none" stroke="#111" stroke-width="1.4" />
<polyline points="621.2,582.3 634.4,582.3" fill="none" stroke="#111" stroke-width="1.4" />
<polygon points="634.4,582.3 628.9,584.9 628.9,579.7" fill="#111"/>
<polyline points="592.4,510.8 613.0,510.8" fill="none" stroke="#aaa" stroke-width="1" stroke-dasharray="1.2 1.8"/>
<polyline points="613.0,467.0 613.0,549.0" fill="none" stroke="#aaa" stroke-width="1" stroke-dasharray="1.2 1.8"/>
<polygon points="612.2,463.5 610,468.5 614.4,468.5" fill="#555"/><polygon points="612.6,553 610.4,548 614.8,548" fill="#555"/>
<rect x="539.4" y="494.8" width="53.0" height="32.2" rx="2" fill="url(#gl)" stroke="#7c9a66" stroke-width="1.2" />
<text x="566.0" y="508.0" font-size="13" font-weight="400" font-style="normal" fill="#1a1a1a" stroke="#1a1a1a" stroke-width="0.25" text-anchor="middle" >Writer</text>
<text x="566.0" y="523.4" font-size="13" font-weight="400" font-style="normal" fill="#1a1a1a" stroke="#1a1a1a" stroke-width="0.25" text-anchor="middle" >FSM</text>
<polyline points="528.3,486.0 528.3,534.8" fill="none" stroke="#111" stroke-width="1.4" />
<polygon points="528.3,534.8 525.7,529.3 530.9,529.3" fill="#111"/>
<rect x="475.2" y="535.6" width="99.2" height="39.4" rx="0" fill="url(#gl)" stroke="#7c9a66" stroke-width="1.2" />
<text x="524.8" y="552.0" font-size="13.6" font-weight="400" font-style="normal" fill="#1a1a1a" stroke="#1a1a1a" stroke-width="0.25" text-anchor="middle" >Coordinate</text>
<text x="524.8" y="568.6" font-size="13.6" font-weight="400" font-style="normal" fill="#1a1a1a" stroke="#1a1a1a" stroke-width="0.25" text-anchor="middle" >Addr Gen</text>
<text x="575.8" y="551.6" font-size="9.6" font-weight="400" font-style="normal" fill="#1a1a1a" stroke="#1a1a1a" stroke-width="0.25" text-anchor="start" >coord</text>
<text x="578.6" y="568.0" font-size="9.6" font-weight="400" font-style="normal" fill="#1a1a1a" stroke="#1a1a1a" stroke-width="0.25" text-anchor="start" >addr</text>
<polyline points="574.4,555.5 606.6,555.5" fill="none" stroke="#111" stroke-width="1.4" />
<polygon points="606.6,555.5 601.1,558.1 601.1,552.9" fill="#111"/>
<polygon points="607.4,551.6 616.6,556.2 616.6,599.8 607.4,607" fill="#dcdcdc" stroke="#333" stroke-width="1.1"/>
<rect x="475.2" y="583.2" width="99.2" height="39.4" rx="0" fill="url(#gl)" stroke="#7c9a66" stroke-width="1.2" />
<text x="524.8" y="599.6" font-size="13.6" font-weight="400" font-style="normal" fill="#1a1a1a" stroke="#1a1a1a" stroke-width="0.25" text-anchor="middle" >Segment</text>
<text x="524.8" y="616.2" font-size="13.6" font-weight="400" font-style="normal" fill="#1a1a1a" stroke="#1a1a1a" stroke-width="0.25" text-anchor="middle" >Addr Gen</text>
<text x="581.6" y="599.0" font-size="9.6" font-weight="400" font-style="normal" fill="#1a1a1a" stroke="#1a1a1a" stroke-width="0.25" text-anchor="start" >seg</text>
<text x="578.6" y="616.2" font-size="9.6" font-weight="400" font-style="normal" fill="#1a1a1a" stroke="#1a1a1a" stroke-width="0.25" text-anchor="start" >addr</text>
<polyline points="574.4,602.7 606.6,602.7" fill="none" stroke="#111" stroke-width="1.4" />
<polygon points="606.6,602.7 601.1,605.3 601.1,600.1" fill="#111"/>
<polyline points="616.6,586.8 620.0,586.8 620.0,606.2" fill="none" stroke="#111" stroke-width="1.4" />
<polyline points="620.0,606.2 634.4,606.2" fill="none" stroke="#111" stroke-width="1.4" />
<polygon points="634.4,606.2 628.9,608.8 628.9,603.6" fill="#111"/>
<text x="643.6" y="569.4" font-size="9.6" font-weight="400" font-style="normal" fill="#1a1a1a" stroke="#1a1a1a" stroke-width="0.25" text-anchor="middle" >data</text>
<rect x="635.0" y="572.0" width="5.8" height="20.6" rx="0" fill="#dcdcdc" stroke="#444" stroke-width="1.1" />
<rect x="640.8" y="572.0" width="5.8" height="20.6" rx="0" fill="#dcdcdc" stroke="#444" stroke-width="1.1" />
<rect x="646.6" y="572.0" width="5.8" height="20.6" rx="0" fill="#dcdcdc" stroke="#444" stroke-width="1.1" />
<rect x="635.0" y="596.8" width="5.8" height="20.6" rx="0" fill="#dcdcdc" stroke="#444" stroke-width="1.1" />
<rect x="640.8" y="596.8" width="5.8" height="20.6" rx="0" fill="#dcdcdc" stroke="#444" stroke-width="1.1" />
<rect x="646.6" y="596.8" width="5.8" height="20.6" rx="0" fill="#dcdcdc" stroke="#444" stroke-width="1.1" />
<text x="643.6" y="627.6" font-size="9.6" font-weight="400" font-style="normal" fill="#1a1a1a" stroke="#1a1a1a" stroke-width="0.25" text-anchor="middle" >addr</text>
<polyline points="652.4,582.3 668.6,582.3" fill="none" stroke="#111" stroke-width="1.4" />
<polygon points="668.6,582.3 663.1,584.9 663.1,579.7" fill="#111"/>
<polyline points="652.4,606.2 668.6,606.2" fill="none" stroke="#111" stroke-width="1.4" />
<polygon points="668.6,606.2 663.1,608.8 663.1,603.6" fill="#111"/>
<rect x="669.2" y="338.8" width="202.8" height="121.0" rx="0" fill="#b4b4b4" stroke="none" stroke-width="0" />
<text x="770.5" y="361.0" font-size="11.6" font-weight="400" font-style="italic" fill="#222" stroke="#222" stroke-width="0.25" text-anchor="middle" >Storage Format</text>
<rect x="703.6" y="375.2" width="132.4" height="15.8" rx="0" fill="#fff" stroke="#555" stroke-width="1" stroke-dasharray="2.4 2"/>
<rect x="703.6" y="391.0" width="132.4" height="16.4" rx="0" fill="#fff" stroke="#555" stroke-width="1" stroke-dasharray="2.4 2"/>
<text x="833.5" y="387.6" font-size="12.2" font-weight="400" font-style="normal" fill="#1a1a1a" stroke="#1a1a1a" stroke-width="0.25" text-anchor="end" >segments:</text>
<text x="833.5" y="403.8" font-size="12.2" font-weight="400" font-style="normal" fill="#1a1a1a" stroke="#1a1a1a" stroke-width="0.25" text-anchor="end" >coords:</text>
<rect x="703.6" y="375.2" width="16.0" height="15.8" rx="0" fill="#fff" stroke="#333" stroke-width="1.1" />
<text x="711.6" y="387.5" font-size="12.2" font-weight="400" font-style="normal" fill="#1a1a1a" stroke="#1a1a1a" stroke-width="0.25" text-anchor="middle" >0</text>
<rect x="719.6" y="375.2" width="16.0" height="15.8" rx="0" fill="#fbf2bf" stroke="#333" stroke-width="1.1" />
<text x="727.6" y="387.5" font-size="12.2" font-weight="400" font-style="normal" fill="#1a1a1a" stroke="#1a1a1a" stroke-width="0.25" text-anchor="middle" >3</text>
<rect x="703.6" y="391.0" width="16.0" height="16.4" rx="0" fill="#fbf2bf" stroke="#333" stroke-width="1.1" />
<text x="711.6" y="403.6" font-size="12.2" font-weight="400" font-style="normal" fill="#1a1a1a" stroke="#1a1a1a" stroke-width="0.25" text-anchor="middle" >0</text>
<rect x="719.6" y="391.0" width="15.9" height="16.4" rx="0" fill="#fbf2bf" stroke="#333" stroke-width="1.1" />
<text x="727.5" y="403.6" font-size="12.2" font-weight="400" font-style="normal" fill="#1a1a1a" stroke="#1a1a1a" stroke-width="0.25" text-anchor="middle" >1</text>
<rect x="735.5" y="391.0" width="16.0" height="16.4" rx="0" fill="#fbf2bf" stroke="#333" stroke-width="1.1" />
<text x="743.5" y="403.6" font-size="12.2" font-weight="400" font-style="normal" fill="#1a1a1a" stroke="#1a1a1a" stroke-width="0.25" text-anchor="middle" >3</text>
<text x="770.5" y="433.0" font-size="13.2" font-weight="700" font-style="normal" fill="#1a1a1a"  text-anchor="middle" >512x64-bit</text>
<text x="770.5" y="449.0" font-size="13.2" font-weight="700" font-style="normal" fill="#1a1a1a"  text-anchor="middle" >Single Port SRAM</text>
<polyline points="769.7,461.0 769.7,482.0" fill="none" stroke="#111" stroke-width="1.4" />
<polygon points="769.7,482.0 767.1,477.0 772.3,477.0" fill="#111"/>
<polygon points="769.7,461.0 772.3,466.0 767.1,466.0" fill="#111"/>
<rect x="669.2" y="483.0" width="202.8" height="20.6" rx="5" fill="#fff" stroke="#333" stroke-width="1.4" />
<text x="770.5" y="498.4" font-size="12.6" font-weight="700" font-style="normal" fill="#1a1a1a"  text-anchor="middle" >Arbiter</text>
<rect x="669.7" y="519.0" width="48.3" height="42.2" rx="3" fill="url(#gl)" stroke="#6f8f5c" stroke-width="1.3" />
<rect x="671.2" y="520.2" width="45.3" height="9.6" rx="0" fill="#b4b4b4" stroke="#777" stroke-width="0.8" />
<text x="693.9" y="528.2" font-size="9.4" font-weight="400" font-style="normal" fill="#333" stroke="#333" stroke-width="0.25" text-anchor="middle" >cache</text>
<text x="693.9" y="542.0" font-size="12.8" font-weight="400" font-style="normal" fill="#1a1a1a" stroke="#1a1a1a" stroke-width="0.25" text-anchor="middle" >Seg</text>
<text x="693.9" y="557.4" font-size="12.8" font-weight="400" font-style="normal" fill="#1a1a1a" stroke="#1a1a1a" stroke-width="0.25" text-anchor="middle" >Writer</text>
<rect x="721.0" y="519.0" width="48.7" height="42.2" rx="3" fill="url(#gl)" stroke="#6f8f5c" stroke-width="1.3" />
<rect x="722.5" y="520.2" width="45.7" height="9.6" rx="0" fill="#b4b4b4" stroke="#777" stroke-width="0.8" />
<text x="745.4" y="528.2" font-size="9.4" font-weight="400" font-style="normal" fill="#333" stroke="#333" stroke-width="0.25" text-anchor="middle" >cache</text>
<text x="745.4" y="542.0" font-size="12.8" font-weight="400" font-style="normal" fill="#1a1a1a" stroke="#1a1a1a" stroke-width="0.25" text-anchor="middle" >Coord</text>
<text x="745.4" y="557.4" font-size="12.8" font-weight="400" font-style="normal" fill="#1a1a1a" stroke="#1a1a1a" stroke-width="0.25" text-anchor="middle" >Writer</text>
<rect x="772.6" y="519.0" width="46.8" height="42.2" rx="3" fill="url(#gd)" stroke="#6f8f5c" stroke-width="1.3" />
<rect x="774.1" y="520.2" width="43.8" height="9.6" rx="0" fill="#b4b4b4" stroke="#777" stroke-width="0.8" />
<text x="796.0" y="528.2" font-size="9.4" font-weight="400" font-style="normal" fill="#333" stroke="#333" stroke-width="0.25" text-anchor="middle" >cache</text>
<text x="796.0" y="542.0" font-size="12.8" font-weight="400" font-style="normal" fill="#1a1a1a" stroke="#1a1a1a" stroke-width="0.25" text-anchor="middle" >Seg</text>
<text x="796.0" y="557.4" font-size="12.8" font-weight="400" font-style="normal" fill="#1a1a1a" stroke="#1a1a1a" stroke-width="0.25" text-anchor="middle" >Reader</text>
<rect x="822.3" y="519.0" width="49.7" height="42.2" rx="3" fill="url(#gd)" stroke="#6f8f5c" stroke-width="1.3" />
<rect x="823.8" y="520.2" width="46.7" height="9.6" rx="0" fill="#b4b4b4" stroke="#777" stroke-width="0.8" />
<text x="847.1" y="528.2" font-size="9.4" font-weight="400" font-style="normal" fill="#333" stroke="#333" stroke-width="0.25" text-anchor="middle" >cache</text>
<text x="847.1" y="542.0" font-size="12.8" font-weight="400" font-style="normal" fill="#1a1a1a" stroke="#1a1a1a" stroke-width="0.25" text-anchor="middle" >Coord</text>
<text x="847.1" y="557.4" font-size="12.8" font-weight="400" font-style="normal" fill="#1a1a1a" stroke="#1a1a1a" stroke-width="0.25" text-anchor="middle" >Reader</text>
<polyline points="693.4,519.0 693.4,504.4" fill="none" stroke="#111" stroke-width="1.4" />
<polygon points="693.4,504.4 696.0,509.4 690.8,509.4" fill="#111"/>
<polyline points="745.0,519.0 745.0,504.4" fill="none" stroke="#111" stroke-width="1.4" />
<polygon points="745.0,504.4 747.6,509.4 742.4,509.4" fill="#111"/>
<polyline points="789.6,503.6 789.6,518.4" fill="none" stroke="#111" stroke-width="1.4" />
<polygon points="789.6,518.4 787.0,513.4 792.2,513.4" fill="#111"/>
<polyline points="801.9,519.0 801.9,504.4" fill="none" stroke="#111" stroke-width="1.4" />
<polygon points="801.9,504.4 804.5,509.4 799.3,509.4" fill="#111"/>
<polyline points="840.7,503.6 840.7,518.4" fill="none" stroke="#111" stroke-width="1.4" />
<polygon points="840.7,518.4 838.1,513.4 843.3,513.4" fill="#111"/>
<polyline points="852.9,519.0 852.9,504.4" fill="none" stroke="#111" stroke-width="1.4" />
<polygon points="852.9,504.4 855.5,509.4 850.3,509.4" fill="#111"/>
<rect x="669.2" y="577.3" width="100.5" height="34.3" rx="2" fill="url(#gl)" stroke="#7c9a66" stroke-width="1.2" />
<text x="719.5" y="591.0" font-size="13.4" font-weight="400" font-style="normal" fill="#1a1a1a" stroke="#1a1a1a" stroke-width="0.25" text-anchor="middle" >Writer</text>
<text x="719.5" y="607.2" font-size="13.4" font-weight="400" font-style="normal" fill="#1a1a1a" stroke="#1a1a1a" stroke-width="0.25" text-anchor="middle" >Decoder</text>
<rect x="771.0" y="577.3" width="101.0" height="34.3" rx="2" fill="url(#gd)" stroke="#6f9a55" stroke-width="1.2" />
<text x="821.5" y="591.0" font-size="13.4" font-weight="400" font-style="normal" fill="#1a1a1a" stroke="#1a1a1a" stroke-width="0.25" text-anchor="middle" >Scanner</text>
<text x="821.5" y="607.2" font-size="13.4" font-weight="400" font-style="normal" fill="#1a1a1a" stroke="#1a1a1a" stroke-width="0.25" text-anchor="middle" >Decoder</text>
<polyline points="693.4,577.3 693.4,562.0" fill="none" stroke="#111" stroke-width="1.4" />
<polygon points="693.4,562.0 696.0,567.0 690.8,567.0" fill="#111"/>
<polyline points="745.0,577.3 745.0,562.0" fill="none" stroke="#111" stroke-width="1.4" />
<polygon points="745.0,562.0 747.6,567.0 742.4,567.0" fill="#111"/>
<polyline points="797.5,577.3 797.5,562.0" fill="none" stroke="#111" stroke-width="1.4" />
<polygon points="797.5,562.0 800.1,567.0 794.9,567.0" fill="#111"/>
<polyline points="847.7,577.3 847.7,562.0" fill="none" stroke="#111" stroke-width="1.4" />
<polygon points="847.7,562.0 850.3,567.0 845.1,567.0" fill="#111"/>
<polyline points="804.8,561.2 804.8,572.2 868.6,572.2" fill="none" stroke="#111" stroke-width="1.1" />
<polygon points="868.6,572.2 864.6,574.2 864.6,570.2" fill="#111"/>
<polyline points="858.7,561.2 858.7,565.4 868.6,565.4" fill="none" stroke="#111" stroke-width="1.1" />
<polygon points="868.6,565.4 864.6,567.4 864.6,563.4" fill="#111"/>
<path d="M869,563.2 h5.6 q3.4,3 3.4,6.6 q0,3.6 -3.4,6.6 h-5.6 z" fill="#dcdcdc" stroke="#333" stroke-width="1"/>
<polyline points="878.0,569.8 889.0,569.8" fill="none" stroke="#111" stroke-width="1.4" />
<polygon points="889.0,569.8 884.0,572.4 884.0,567.2" fill="#111"/>
<text x="898.0" y="556.4" font-size="9.6" font-weight="400" font-style="normal" fill="#1a1a1a" stroke="#1a1a1a" stroke-width="0.25" text-anchor="middle" >data</text>
<rect x="889.3" y="559.0" width="5.8" height="21.3" rx="0" fill="#dcdcdc" stroke="#444" stroke-width="1.1" />
<rect x="895.1" y="559.0" width="5.8" height="21.3" rx="0" fill="#dcdcdc" stroke="#444" stroke-width="1.1" />
<rect x="901.0" y="559.0" width="5.8" height="21.3" rx="0" fill="#dcdcdc" stroke="#444" stroke-width="1.1" />
<rect x="889.3" y="583.7" width="5.8" height="21.1" rx="0" fill="#dcdcdc" stroke="#444" stroke-width="1.1" />
<rect x="895.1" y="583.7" width="5.8" height="21.1" rx="0" fill="#dcdcdc" stroke="#444" stroke-width="1.1" />
<rect x="901.0" y="583.7" width="5.8" height="21.1" rx="0" fill="#dcdcdc" stroke="#444" stroke-width="1.1" />
<text x="898.0" y="617.8" font-size="9.6" font-weight="400" font-style="normal" fill="#1a1a1a" stroke="#1a1a1a" stroke-width="0.25" text-anchor="middle" >addr</text>
<polyline points="889.3,594.5 872.6,594.5" fill="none" stroke="#111" stroke-width="1.4" />
<polygon points="872.6,594.5 878.1,591.9 878.1,597.1" fill="#111"/>
<polyline points="918.5,594.5 907.4,594.5" fill="none" stroke="#111" stroke-width="1.4" />
<polygon points="907.4,594.5 912.4,591.9 912.4,597.1" fill="#111"/>
<polygon points="925.4,583.6 925.4,604.2 918.5,600.8 918.5,586.8" fill="#dcdcdc" stroke="#333" stroke-width="1"/>
<text x="917.0" y="341.2" font-size="11.4" font-weight="400" font-style="italic" fill="#333" stroke="#333" stroke-width="0.25" text-anchor="start" >Stream</text>
<text x="917.0" y="356.4" font-size="11.4" font-weight="400" font-style="italic" fill="#333" stroke="#333" stroke-width="0.25" text-anchor="start" >Format</text>
<rect x="992.3" y="346.7" width="46.7" height="15.1" rx="2.5" fill="#fbf2bf" stroke="#b9a95c" stroke-width="1.1" />
<rect x="1051.8" y="346.7" width="46.6" height="15.1" rx="2.5" fill="#fbf2bf" stroke="#b9a95c" stroke-width="1.1" />
<text x="994.2" y="358.6" font-size="11.4" font-weight="400" font-style="normal" fill="#1a1a1a" stroke="#1a1a1a" stroke-width="0.25" text-anchor="start" >DS<tspan font-size="7.5" dy="2.6">0</tspan><tspan dy="-2.6">310</tspan></text>
<text x="1053.6" y="358.6" font-size="11.4" font-weight="400" font-style="normal" fill="#1a1a1a" stroke="#1a1a1a" stroke-width="0.25" text-anchor="start" >DS<tspan font-size="7.5" dy="2.6">0</tspan><tspan dy="-2.6">210</tspan></text>
<path d="M990,354.5 Q972,353 968,344 Q970,337 990,336.5 L1040,337.5 Q1050,338 1053,344" fill="none" stroke="#aaa" stroke-width="1" stroke-dasharray="1.2 1.8"/>
<path d="M968,346 Q969,385 960.5,405" fill="none" stroke="#aaa" stroke-width="1" stroke-dasharray="1.2 1.8"/>
<text x="920.5" y="376.4" font-size="13.8" font-weight="700" font-style="normal" fill="#1a1a1a"  text-anchor="start" textLength="36" lengthAdjust="spacingAndGlyphs">ref_i</text>
<text x="984.0" y="376.4" font-size="13.8" font-weight="700" font-style="normal" fill="#1a1a1a"  text-anchor="start" textLength="62.8" lengthAdjust="spacingAndGlyphs">coord_o</text>
<text x="1055.5" y="376.4" font-size="13.8" font-weight="700" font-style="normal" fill="#1a1a1a"  text-anchor="start" textLength="41" lengthAdjust="spacingAndGlyphs">ref_o</text>
<rect x="928.7" y="392.7" width="20.5" height="10.0" rx="0" fill="#dcdcdc" stroke="#444" stroke-width="1.1" />
<rect x="928.7" y="402.7" width="20.5" height="10.0" rx="0" fill="#dcdcdc" stroke="#444" stroke-width="1.1" />
<rect x="928.7" y="412.6" width="20.5" height="10.0" rx="0" fill="#dcdcdc" stroke="#444" stroke-width="1.1" />
<rect x="1006.0" y="392.7" width="20.5" height="10.0" rx="0" fill="#dcdcdc" stroke="#444" stroke-width="1.1" />
<rect x="1006.0" y="402.7" width="20.5" height="10.0" rx="0" fill="#dcdcdc" stroke="#444" stroke-width="1.1" />
<rect x="1006.0" y="412.6" width="20.5" height="10.0" rx="0" fill="#dcdcdc" stroke="#444" stroke-width="1.1" />
<rect x="1065.1" y="392.7" width="20.3" height="10.0" rx="0" fill="#dcdcdc" stroke="#444" stroke-width="1.1" />
<rect x="1065.1" y="402.7" width="20.3" height="10.0" rx="0" fill="#dcdcdc" stroke="#444" stroke-width="1.1" />
<rect x="1065.1" y="412.6" width="20.3" height="10.0" rx="0" fill="#dcdcdc" stroke="#444" stroke-width="1.1" />
<polyline points="939.0,380.0 939.0,392.0" fill="none" stroke="#111" stroke-width="1.4" />
<polygon points="939.0,392.0 936.4,387.0 941.6,387.0" fill="#111"/>
<polyline points="1016.2,392.7 1016.2,381.0" fill="none" stroke="#111" stroke-width="1.4" />
<polygon points="1016.2,381.0 1018.8,386.0 1013.6,386.0" fill="#111"/>
<polyline points="1075.4,392.7 1075.4,381.0" fill="none" stroke="#111" stroke-width="1.4" />
<polygon points="1075.4,381.0 1078.0,386.0 1072.8,386.0" fill="#111"/>
<rect x="955.0" y="408.5" width="11.2" height="14.1" rx="2" fill="#fbf2bf" stroke="#b9a95c" stroke-width="1" />
<text x="960.6" y="420.0" font-size="11.4" font-weight="400" font-style="normal" fill="#1a1a1a" stroke="#1a1a1a" stroke-width="0.25" text-anchor="middle" >0</text>
<polyline points="939.4,422.6 939.4,435.0" fill="none" stroke="#111" stroke-width="1.4" />
<polygon points="939.4,435.0 936.8,430.0 942.0,430.0" fill="#111"/>
<polyline points="960.8,422.6 960.8,435.0" fill="none" stroke="#111" stroke-width="1.4" />
<polygon points="960.8,435.0 958.2,430.0 963.4,430.0" fill="#111"/>
<polygon points="936.8,435.6 963.2,435.6 957.2,443.2 943,443.2" fill="#dcdcdc" stroke="#333" stroke-width="1.1"/>
<text x="969.8" y="442.4" font-size="9.6" font-weight="400" font-style="normal" fill="#444"  text-anchor="start" >root?</text>
<polygon points="962.5,439.4 967.5,437.4 967.5,441.4" fill="#444"/>
<polyline points="949.8,443.2 949.8,457.0" fill="none" stroke="#111" stroke-width="1.4" />
<polygon points="949.8,457.0 947.2,452.0 952.4,452.0" fill="#111"/>
<rect x="917.0" y="457.5" width="65.6" height="53.3" rx="0" fill="url(#gd)" stroke="#5f8a48" stroke-width="1.3" />
<text x="949.8" y="481.6" font-size="13.2" font-weight="400" font-style="normal" fill="#1a1a1a" stroke="#1a1a1a" stroke-width="0.25" text-anchor="middle" >Seg/Val</text>
<text x="949.8" y="497.4" font-size="13.2" font-weight="400" font-style="normal" fill="#1a1a1a" stroke="#1a1a1a" stroke-width="0.25" text-anchor="middle" >FSM</text>
<polygon points="1007.6,437 1027.6,437 1031,443.6 1004,443.6" fill="#dcdcdc" stroke="#333" stroke-width="1.1"/>
<polyline points="1016.2,437.0 1016.2,423.2" fill="none" stroke="#111" stroke-width="1.4" />
<polygon points="1016.2,423.2 1018.8,428.2 1013.6,428.2" fill="#111"/>
<polyline points="1057.0,457.5 1057.0,439.4 1034.0,439.4" fill="none" stroke="#aaa" stroke-width="1" stroke-dasharray="1.2 1.8"/>
<polygon points="1030.5,439.4 1035.5,437.4 1035.5,441.4" fill="#444"/>
<rect x="1043.3" y="457.5" width="65.7" height="53.3" rx="0" fill="url(#gd)" stroke="#5f8a48" stroke-width="1.3" />
<text x="1076.2" y="481.6" font-size="13.2" font-weight="400" font-style="normal" fill="#1a1a1a" stroke="#1a1a1a" stroke-width="0.25" text-anchor="middle" >Coord</text>
<text x="1076.2" y="497.4" font-size="13.2" font-weight="400" font-style="normal" fill="#1a1a1a" stroke="#1a1a1a" stroke-width="0.25" text-anchor="middle" >FSM</text>
<polyline points="1075.4,457.5 1075.4,423.2" fill="none" stroke="#111" stroke-width="1.4" />
<polygon points="1075.4,423.2 1078.0,428.2 1072.8,428.2" fill="#111"/>
<text x="948.6" y="521.6" font-size="9.6" font-weight="400" font-style="normal" fill="#333" stroke="#333" stroke-width="0.25" text-anchor="end" >seg</text>
<text x="948.6" y="534.0" font-size="9.6" font-weight="400" font-style="normal" fill="#333" stroke="#333" stroke-width="0.25" text-anchor="end" >/val</text>
<text x="948.6" y="546.6" font-size="9.6" font-weight="400" font-style="normal" fill="#333" stroke="#333" stroke-width="0.25" text-anchor="end" >addr</text>
<text x="995.6" y="519.4" font-size="9.6" font-weight="400" font-style="normal" fill="#333" stroke="#333" stroke-width="0.25" text-anchor="middle" >coord</text>
<text x="1078.0" y="521.6" font-size="9.6" font-weight="400" font-style="normal" fill="#333" stroke="#333" stroke-width="0.25" text-anchor="start" >coord</text>
<text x="1078.0" y="534.6" font-size="9.6" font-weight="400" font-style="normal" fill="#333" stroke="#333" stroke-width="0.25" text-anchor="start" >addr</text>
<text x="996.5" y="589.6" font-size="9.6" font-weight="400" font-style="normal" fill="#333" stroke="#333" stroke-width="0.25" text-anchor="middle" >seg/val</text>
<rect x="988.4" y="522.5" width="5.9" height="20.5" rx="0" fill="#dcdcdc" stroke="#444" stroke-width="1.1" />
<rect x="994.3" y="522.5" width="5.9" height="20.5" rx="0" fill="#dcdcdc" stroke="#444" stroke-width="1.1" />
<rect x="1000.1" y="522.5" width="5.9" height="20.5" rx="0" fill="#dcdcdc" stroke="#444" stroke-width="1.1" />
<rect x="988.4" y="559.8" width="5.9" height="20.5" rx="0" fill="#dcdcdc" stroke="#444" stroke-width="1.1" />
<rect x="994.3" y="559.8" width="5.9" height="20.5" rx="0" fill="#dcdcdc" stroke="#444" stroke-width="1.1" />
<rect x="1000.1" y="559.8" width="5.9" height="20.5" rx="0" fill="#dcdcdc" stroke="#444" stroke-width="1.1" />
<polyline points="922.0,510.8 922.0,580.0" fill="none" stroke="#aaa" stroke-width="1" stroke-dasharray="1.2 1.8"/>
<polygon points="922,584.6 919.8,579.6 924.2,579.6" fill="#444"/>
<polyline points="997.2,546.0 997.2,557.0" fill="none" stroke="#444" stroke-width="1" stroke-dasharray="1.2 1.6"/>
<polygon points="997.2,543.4 995,548 999.4,548" fill="#333"/><polygon points="997.2,559.6 995,555 999.4,555" fill="#333"/>
<polyline points="997.2,552.2 1057.0,552.2 1057.0,510.8" fill="none" stroke="#aaa" stroke-width="1" stroke-dasharray="1.2 1.8"/>
<polyline points="906.8,570.0 947.6,570.0" fill="none" stroke="#111" stroke-width="1.4" />
<path d="M947.6,570 a2.4,2.4 0 0 1 4.8,0" fill="none" stroke="#111" stroke-width="1.4"/>
<polyline points="952.4,570.0 988.0,570.0" fill="none" stroke="#111" stroke-width="1.4" />
<polygon points="988.0,570.0 982.5,572.6 982.5,567.4" fill="#111"/>
<circle cx="956.6" cy="570.0" r="2.2" fill="#111"/>
<polyline points="956.6,570.0 956.6,532.7 988.0,532.7" fill="none" stroke="#111" stroke-width="1.4" />
<polygon points="988.0,532.7 982.5,535.3 982.5,530.1" fill="#111"/>
<polyline points="950.0,510.8 950.0,588.0 927.2,588.0" fill="none" stroke="#111" stroke-width="1.4" />
<polygon points="927.2,588.0 932.7,585.4 932.7,590.6" fill="#111"/>
<polyline points="1076.0,510.8 1076.0,598.4 927.2,598.4" fill="none" stroke="#111" stroke-width="1.4" />
<polygon points="927.2,598.4 932.7,595.8 932.7,601.0" fill="#111"/>
<polyline points="1006.0,532.7 1011.2,532.7 1011.2,450.0" fill="none" stroke="#111" stroke-width="1.4" />
<polyline points="1011.2,455.0 1011.2,444.0" fill="none" stroke="#111" stroke-width="1.4" />
<polygon points="1011.2,444.0 1013.8,449.0 1008.6,449.0" fill="#111"/>
<polyline points="1006.0,570.0 1020.6,570.0 1020.6,450.0" fill="none" stroke="#111" stroke-width="1.4" />
<polyline points="1020.6,455.0 1020.6,444.0" fill="none" stroke="#111" stroke-width="1.4" />
<polygon points="1020.6,444.0 1023.2,449.0 1018.0,449.0" fill="#111"/>
<circle cx="1020.6" cy="484.6" r="2.2" fill="#111"/>
<polyline points="1020.6,484.6 1043.0,484.6" fill="none" stroke="#111" stroke-width="1.4" />
<polygon points="1043.0,484.6 1037.5,487.2 1037.5,482.0" fill="#111"/>
</svg>
<div class="logo"><span>new</span>electronics</div>
<div class="foot-date">DECEMBER-JANUARY 2026<i></i>/<i></i><b>39</b></div>
</body></html>
